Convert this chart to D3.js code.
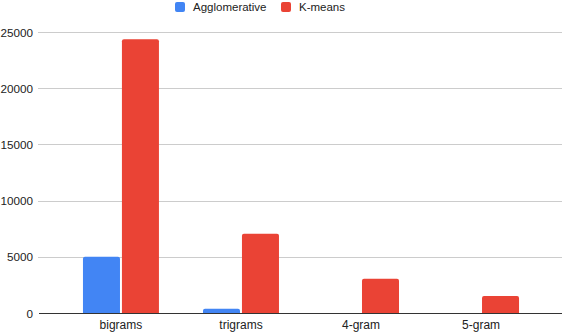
<!DOCTYPE html>
<html><head><meta charset="utf-8">
<script src="https://cdn.jsdelivr.net/npm/d3@7"></script>
<style>body{margin:0;background:#fff;font-family:"Liberation Sans",Arial,sans-serif}</style>
</head><body><svg id="c" width="562" height="332"></svg>
<script>
const categories = ["bigrams","trigrams","4-gram","5-gram"];
const seriesNames = ["Agglomerative","K-means"];
const agglomerative = [5000, 380, 0, 0];
const kmeans = [24350, 7050, 3050, 1520];
const yTicks = [0,5000,10000,15000,20000,25000];
const colors = ["#4285F4","#EA4335"];

(function(){
const FONT = '"Liberation Sans",Arial,sans-serif';
const svg = d3.select("#c");
const mLeft = 38, mRight = 562, mTop = 32, mBottom = 313;
const y = d3.scaleLinear().domain([0,25000]).range([mBottom, mTop]);
const x = d3.scaleBand().domain(categories).range([61,541]).paddingInner(0.367).paddingOuter(0.183);
const x1 = d3.scaleBand().domain(seriesNames).range([0, x.bandwidth()]).paddingInner(0.05);

svg.append("g").selectAll("line").data(yTicks.filter(d=>d>0)).join("line")
  .attr("x1", mLeft).attr("x2", mRight).attr("y1", d=>Math.round(y(d))+0.5).attr("y2", d=>Math.round(y(d))+0.5)
  .attr("stroke","#cccccc").attr("stroke-width",1);

const yAxis = d3.axisLeft(y).tickValues(yTicks).tickSize(0).tickPadding(0).tickFormat(d3.format("d"));
const ya = svg.append("g").attr("transform",`translate(33,0)`).call(yAxis);
ya.select(".domain").remove();
ya.selectAll("text").attr("font-family",FONT).attr("font-size",11.7).attr("fill","#222").attr("dy","0.35em");

const data = categories.map((c,i)=>({cat:c, vals:[agglomerative[i], kmeans[i]]}));
function barPath(x0, w, yTop, yBot){
  const h = yBot - yTop;
  if (h <= 0) return "";
  const r = Math.min(2, h/2, w/2);
  return `M${x0},${yBot}V${yTop+r}Q${x0},${yTop} ${x0+r},${yTop}H${x0+w-r}Q${x0+w},${yTop} ${x0+w},${yTop+r}V${yBot}Z`;
}
const g = svg.append("g");
data.forEach(d=>{
  d.vals.forEach((v,j)=>{
    g.append("path")
      .attr("d", barPath(x(d.cat)+x1(seriesNames[j]), x1.bandwidth(), y(v), y(0)))
      .attr("fill", colors[j]);
  });
});

const xAxis = d3.axisBottom(x).tickSize(0).tickPadding(7);
const xa = svg.append("g").attr("transform",`translate(0,${mBottom})`).call(xAxis);
xa.select(".domain").remove();
xa.selectAll("text").attr("font-family",FONT).attr("font-size",12).attr("fill","#222");
svg.append("line").attr("x1",39).attr("x2",mRight).attr("y1",mBottom+0.5).attr("y2",mBottom+0.5).attr("stroke","#333").attr("stroke-width",1);

const legendX = [175, 281];
const lg = svg.append("g");
seriesNames.forEach((s,j)=>{
  lg.append("rect").attr("x",legendX[j]).attr("y",2).attr("width",10).attr("height",10).attr("rx",2).attr("fill",colors[j]);
  lg.append("text").attr("x",legendX[j]+18).attr("y",7).attr("dy","0.35em")
    .attr("font-family",FONT).attr("font-size",11.5).attr("fill","#222").text(s);
});
})();
</script></body></html>
